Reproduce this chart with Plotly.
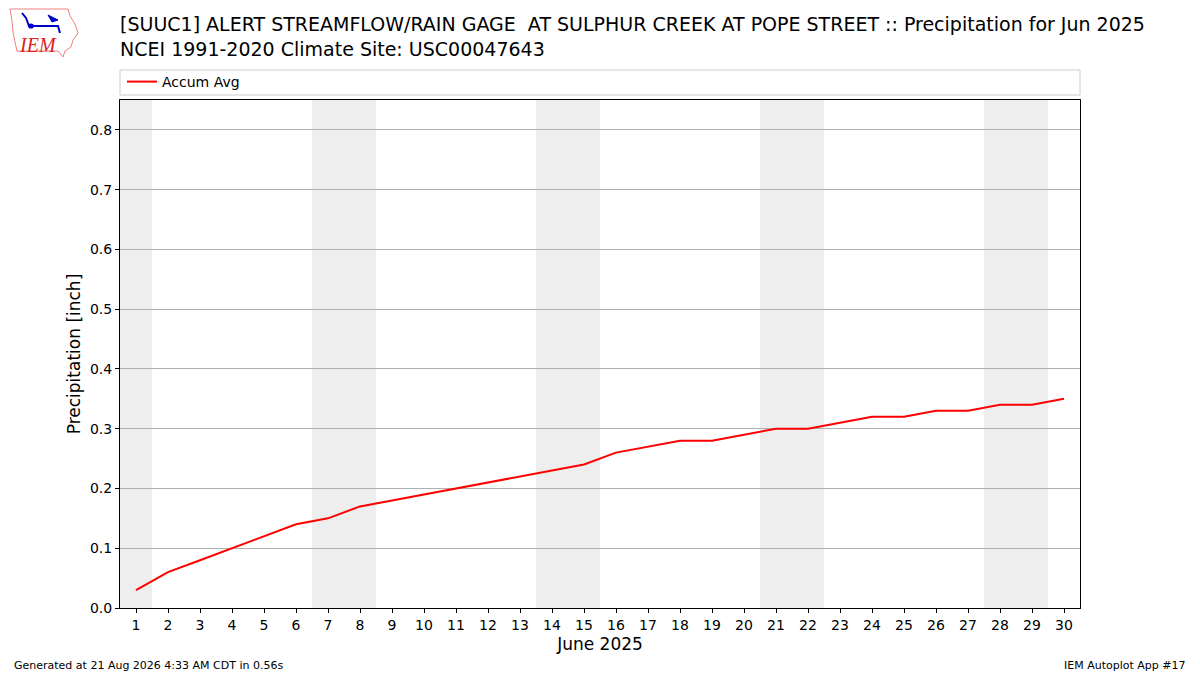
import pandas as pd
import plotly.graph_objects as go

# accumulated climatology precipitation for June 2025
days = list(range(1, 31))
accum_avg = [0.03, 0.06, 0.08, 0.10, 0.12, 0.14, 0.15, 0.17, 0.18, 0.19,
             0.20, 0.21, 0.22, 0.23, 0.24, 0.26, 0.27, 0.28, 0.28, 0.29,
             0.30, 0.30, 0.31, 0.32, 0.32, 0.33, 0.33, 0.34, 0.34, 0.35]
y_ticks = [0.0, 0.1, 0.2, 0.3, 0.4, 0.5, 0.6, 0.7, 0.8]

title_txt = ("[SUUC1] ALERT STREAMFLOW/RAIN GAGE  AT SULPHUR CREEK AT POPE STREET :: "
             "Precipitation for Jun 2025<br>NCEI 1991-2020 Climate Site: USC00047643")
footer_left = "Generated at 21 Aug 2026 4:33 AM CDT in 0.56s"
footer_right = "IEM Autoplot App #17"

FONT = "DejaVu Sans"
W, H = 1200, 675
L, R, T, B = 120, 120, 100, 67

def px2paper(x, y):
    # pixel position -> paper coords, only used for the logo / legend box
    return (x - L) / (W - L - R), (H - B - y) / (H - T - B)

fig = go.Figure()
fig.add_trace(go.Scatter(x=days, y=accum_avg, mode="lines", name="Accum Avg",
                         line=dict(color="red", width=2)))

# weekend shading
dates = pd.date_range("2025-06-01", "2025-06-30")
for d in dates:
    if d.weekday() >= 5:
        fig.add_vrect(x0=d.day - 0.5, x1=d.day + 0.5, fillcolor="#eeeeee",
                      line_width=0, layer="below")

# legend box across the top of the axes
x0, y0 = px2paper(120, 95)
x1, y1 = px2paper(1080, 70)
fig.add_shape(type="rect", xref="paper", yref="paper", x0=x0, y0=y0, x1=x1, y1=y1,
              line=dict(color="#cccccc", width=1), fillcolor="white")

# rough IEM logo (Iowa outline + weather station)
outline = [(10, 9), (68, 9), (70, 16), (75, 24), (78, 33), (73, 40), (71, 47),
           (65, 51), (63, 57), (58, 51), (17, 51), (15, 42), (13, 32), (12, 21), (10, 9)]
pts = [px2paper(a, b) for a, b in outline]
path = "M " + " L ".join(f"{a},{b}" for a, b in pts) + " Z"
fig.add_shape(type="path", xref="paper", yref="paper", path=path,
              line=dict(color="#f08080", width=1))
station = [(22, 13), (26, 18), (29, 26), (58, 26), (60, 33)]
spts = [px2paper(a, b) for a, b in station]
fig.add_shape(type="path", xref="paper", yref="paper",
              path="M " + " L ".join(f"{a},{b}" for a, b in spts),
              line=dict(color="#0000cc", width=2))
wp = [px2paper(a, b) for a, b in [(48, 15), (58, 20), (52, 22)]]
fig.add_shape(type="path", xref="paper", yref="paper",
              path="M " + " L ".join(f"{a},{b}" for a, b in wp) + " Z",
              fillcolor="#0000cc", line=dict(color="#0000cc", width=1))
cx, cy = px2paper(31, 26)
fig.add_shape(type="circle", xref="paper", yref="paper", x0=cx - 0.003, y0=cy - 0.005,
              x1=cx + 0.003, y1=cy + 0.005, fillcolor="#0000cc", line_width=0)
tx, ty = px2paper(38, 45)
fig.add_annotation(text="<i>IEM</i>", xref="paper", yref="paper", x=tx, y=ty,
                   xanchor="center", yanchor="middle", showarrow=False,
                   font=dict(family="Liberation Serif", size=20, color="#dd2222"))

fig.add_annotation(text=footer_left, xref="paper", yref="paper",
                   x=px2paper(12, 0)[0], y=px2paper(0, 665)[1], xanchor="left", yanchor="middle",
                   showarrow=False, font=dict(family=FONT, size=11, color="black"))
fig.add_annotation(text=footer_right, xref="paper", yref="paper",
                   x=px2paper(1188, 0)[0], y=px2paper(0, 665)[1], xanchor="right", yanchor="middle",
                   showarrow=False, font=dict(family=FONT, size=11, color="black"))

fig.update_layout(
    width=W, height=H,
    margin=dict(l=L, r=R, t=T, b=B),
    paper_bgcolor="white", plot_bgcolor="white",
    font=dict(family=FONT, size=14, color="black"),
    title=dict(text=title_txt, x=L / W, xanchor="left", y=1 - 31 / H, yanchor="middle",
               font=dict(family=FONT, size=19, color="black"), automargin=False),
    showlegend=True,
    legend=dict(x=px2paper(122, 0)[0], y=px2paper(0, 82)[1], xanchor="left", yanchor="middle",
                bgcolor="rgba(0,0,0,0)", borderwidth=0, font=dict(size=14)),
)
fig.update_xaxes(range=[0.5, 30.5], tickmode="array", tickvals=days,
                 ticks="outside", ticklen=4, tickcolor="black",
                 showgrid=False, zeroline=False, showline=True, linecolor="black",
                 mirror=True, title=dict(text="June 2025", font=dict(size=17), standoff=6))
fig.update_yaxes(range=[0, 0.85], tickmode="array", tickvals=y_ticks,
                 ticktext=[f"{v:.1f}" for v in y_ticks],
                 ticks="outside", ticklen=4, tickcolor="black",
                 showgrid=True, gridcolor="#b0b0b0", zeroline=False, showline=True,
                 linecolor="black", mirror=True,
                 title=dict(text="Precipitation [inch]", font=dict(size=17), standoff=4))

fig.write_html("out.html", config={"displayModeBar": False},
               post_script="document.body.style.margin='0';")
